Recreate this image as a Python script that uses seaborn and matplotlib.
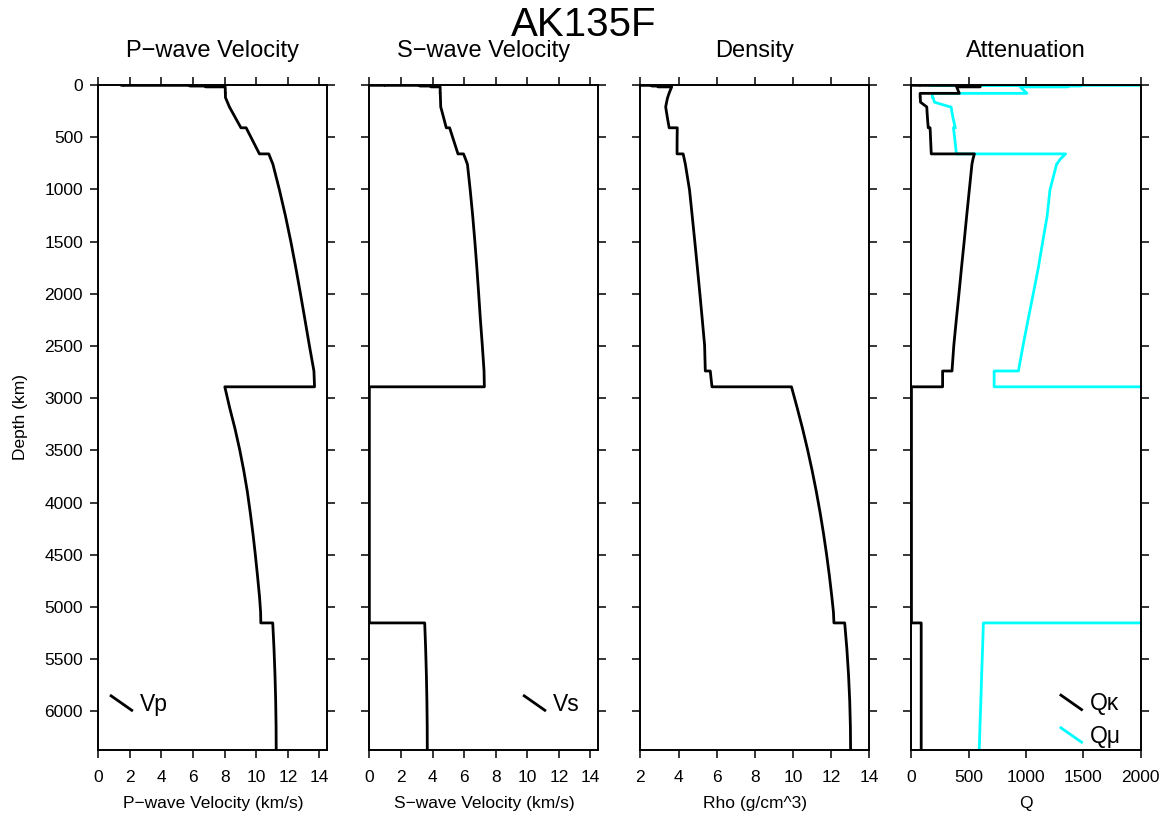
import matplotlib
matplotlib.use("Agg")
import matplotlib.pyplot as plt
import numpy as np
import pandas as pd
import seaborn as sns
from matplotlib.legend_handler import HandlerBase
from matplotlib.lines import Line2D

# ---------------- data (AK135F) ----------------
depth = [0, 3, 3, 3.3, 3.3, 10, 10, 18,
         18, 43, 80, 80, 120, 120, 165, 210, 210,
         260, 310, 360, 410, 410, 460, 510, 560, 610, 660,
         660, 710, 760, 1007.5, 1255, 1502.5, 1750, 1997.5, 2245, 2492.5, 2740, 2740, 2891.5,
         2891.5, 3090, 3290, 3490, 3690, 3890, 4100, 4300, 4500, 4700, 4900, 5050, 5153.5,
         5153.5, 5400, 5650, 5900, 6150, 6371]

rho = [1.02, 1.02, 2.00, 2.00, 2.60, 2.60, 2.92, 2.92,
       3.641, 3.5801, 3.502, 3.502, 3.4268, 3.4268, 3.3711, 3.3243, 3.3243,
       3.3663, 3.411, 3.4577, 3.5068, 3.9317, 3.9273, 3.9233, 3.9218, 3.9206, 3.9201,
       4.2387, 4.2986, 4.3565, 4.5744, 4.7148, 4.8515, 4.9847, 5.1143, 5.2403, 5.3628, 5.40, 5.66, 5.75,
       9.9145, 10.2095, 10.4932, 10.7539, 10.9928, 11.2107, 11.418, 11.5958, 11.7561, 11.900, 12.0275, 12.1138, 12.1391,
       12.7037, 12.816, 12.904, 12.966, 13.002, 13.0122]

vp = [1.45, 1.45, 1.65, 1.65, 5.80, 5.80, 6.80, 6.80,
      8.0355, 8.0379, 8.04, 8.045, 8.0505, 8.0505, 8.175, 8.3007, 8.3007,
      8.4822, 8.665, 8.8476, 9.0302, 9.3601, 9.528, 9.6962, 9.864, 10.032, 10.2,
      10.7909, 10.9222, 11.0553, 11.4704, 11.8491, 12.1912, 12.503, 12.7956, 13.0786, 13.3584, 13.65, 13.65, 13.69,
      8.0088, 8.3122, 8.6496, 8.9461, 9.2042, 9.4297, 9.6232, 9.7914, 9.941, 10.0768, 10.2049, 10.2745, 10.289,
      11.0427, 11.1226, 11.1852, 11.2293, 11.255, 11.2622]

vs = [0, 0, 1.0, 1.0, 3.2, 3.2, 3.9, 3.9,
      4.4839, 4.4856, 4.48, 4.49, 4.5, 4.5, 4.509, 4.5184, 4.5184,
      4.6094, 4.6964, 4.7832, 4.8702, 5.0806, 5.1864, 5.2922, 5.3989, 5.5047, 5.6104,
      5.9607, 6.0898, 6.21, 6.386, 6.5431, 6.6813, 6.8056, 6.9194, 7.0281, 7.15, 7.26, 7.26, 7.28,
      0, 0, 0, 0, 0, 0, 0, 0, 0, 0, 0, 0, 0,
      3.5043, 3.5638, 3.6105, 3.6433, 3.6624, 3.6678]

# black curve (legend "Qκ")
q_kappa = [0, 0, 80, 80, 600, 600, 600, 600,
           394.62, 403.93, 417.59, 75.6, 76.06, 76.55, 79.4, 133.72, 133.72,
           136.38, 139.38, 142.76, 146.57, 162.5, 164.87, 166.8, 168.78, 170.82, 172.93,
           549.45, 537, 528, 505, 482, 460, 437, 415, 392, 370, 354, 272, 272,
           0, 0, 0, 0, 0, 0, 0, 0, 0, 0, 0, 0, 0,
           85.03, 85.03, 85.03, 85.03, 85.03, 85.03]

# cyan curve (legend "Qμ")
q_mu = [57822, 57822, 163.35, 163.35, 1478.3, 1478.3, 1368.02, 1368.02,
        950.5, 972.77, 1008.71, 182.03, 182.57, 188.72, 200.97, 338.47, 346.37,
        353.63, 362.03, 372.06, 382.7, 366.34, 372.48, 377.6, 382.59, 387.83, 391.31,
        1346, 1300, 1267, 1209, 1185, 1146, 1108, 1064, 1019, 975, 934, 722, 722,
        57822, 57822, 57822, 57822, 57822, 57822, 57822, 57822, 57822, 57822, 57822, 57822, 57822,
        628, 621, 613, 606, 598, 592]

panel_titles = ["P\u2212wave Velocity", "S\u2212wave Velocity", "Density", "Attenuation"]
x_labels = ["P\u2212wave Velocity (km/s)", "S\u2212wave Velocity (km/s)", "Rho (g/cm^3)", "Q"]
y_ticks = list(range(0, 6001, 500))

df = pd.DataFrame({"depth": depth, "rho": rho, "vp": vp, "vs": vs,
                   "qk": q_kappa, "qm": q_mu})

# ---------------- style ----------------
sns.set_theme(style="ticks")
plt.rcParams["font.family"] = ["Liberation Sans", "DejaVu Sans"]
plt.rcParams["axes.linewidth"] = 1.4
plt.rcParams["axes.edgecolor"] = "black"
plt.rcParams["xtick.color"] = "black"
plt.rcParams["ytick.color"] = "black"
plt.rcParams["text.color"] = "black"
plt.rcParams["axes.labelcolor"] = "black"


class DiagHandler(HandlerBase):
    def create_artists(self, legend, orig_handle, xdescent, ydescent,
                       width, height, fontsize, trans):
        x0, x1 = -xdescent, -xdescent + width
        y0, y1 = -ydescent, -ydescent + height
        ln = Line2D([x0, x1], [y1, y0], color=orig_handle.get_color(),
                    linewidth=orig_handle.get_linewidth(), solid_capstyle="butt")
        ln.set_transform(trans)
        return [ln]


fig = plt.figure(figsize=(11.67, 8.16), dpi=100)
axes = fig.subplots(1, 4, sharey=True)
fig.subplots_adjust(left=98.3 / 1167, right=1140.5 / 1167,
                    top=1 - 85 / 816, bottom=1 - 750 / 816, wspace=0.1834)

LW = 2.0
sns.lineplot(data=df, x="vp", y="depth", sort=False, estimator=None,
             color="black", lw=LW, ax=axes[0])
sns.lineplot(data=df, x="vs", y="depth", sort=False, estimator=None,
             color="black", lw=LW, ax=axes[1])
sns.lineplot(data=df, x="rho", y="depth", sort=False, estimator=None,
             color="black", lw=LW, ax=axes[2])
sns.lineplot(data=df, x="qm", y="depth", sort=False, estimator=None,
             color="#00FFFF", lw=LW, ax=axes[3])
sns.lineplot(data=df, x="qk", y="depth", sort=False, estimator=None,
             color="black", lw=LW, ax=axes[3])

xlims = [(0, 14.5), (0, 14.5), (2, 14), (0, 2000)]
xticks = [np.arange(0, 15, 2), np.arange(0, 15, 2), np.arange(2, 15, 2),
          np.arange(0, 2001, 500)]

for ax, t, xl, lim, xt in zip(axes, panel_titles, x_labels, xlims, xticks):
    ax.set_xlim(*lim)
    ax.set_xticks(xt)
    ax.set_ylim(6371, 0)
    ax.set_yticks(y_ticks)
    ax.set_title(t, fontsize=17, pad=20)
    ax.set_xlabel(xl, fontsize=12.5, labelpad=7.5)
    ax.set_ylabel("")
    ax.tick_params(which="both", direction="out", length=6, width=1.1,
                   top=True, right=True, labelsize=12.5)
    ax.tick_params(axis="x", pad=8.5)
    ax.tick_params(axis="y", pad=5)
    for s in ax.spines.values():
        s.set_visible(True)
        s.set_linewidth(1.4)

axes[0].set_ylabel("Depth (km)", fontsize=12.5, labelpad=12)
for ax in axes[1:]:
    ax.tick_params(labelleft=False)

hmap = {Line2D: DiagHandler()}
leg_kw = dict(handler_map=hmap, frameon=False, fontsize=16.5, handlelength=1.0,
              handletextpad=0.3, borderaxespad=0.0, borderpad=0.0)
lp = axes[0].lines[0]
axes[0].legend([lp], ["Vp"], loc="lower left", bbox_to_anchor=(0.051, 0.051), **leg_kw)
ls = axes[1].lines[0]
axes[1].legend([ls], ["Vs"], loc="lower right", bbox_to_anchor=(0.918, 0.051), **leg_kw)
lq_mu = axes[3].lines[0]
lq_k = axes[3].lines[1]
axes[3].legend([lq_k, lq_mu], ["Q\u03ba", "Q\u03bc"], loc="lower right",
               bbox_to_anchor=(0.913, 0.003), labelspacing=0.42, **leg_kw)

fig.suptitle("AK135F", fontsize=29, y=1 - 6 / 816, va="top")

fig.savefig("out.png", dpi=100)
